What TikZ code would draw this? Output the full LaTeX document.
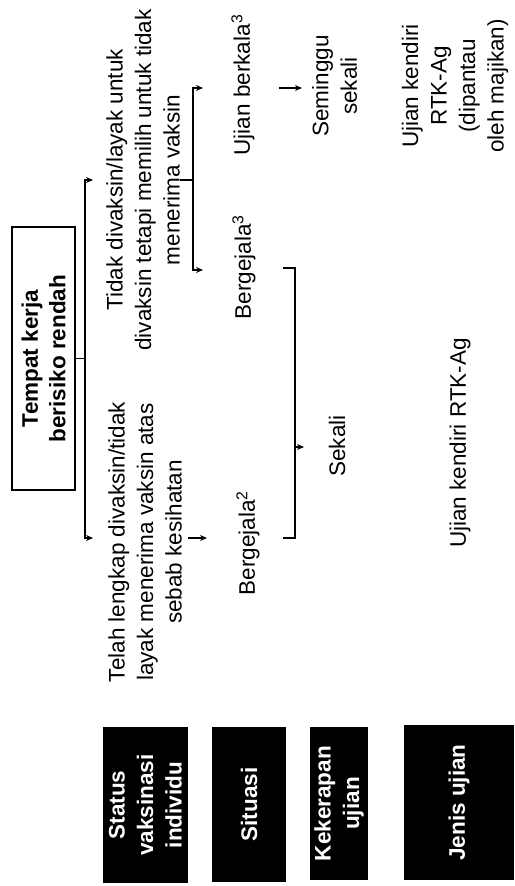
\documentclass[tikz,border=0pt]{standalone}
\usepackage{fontspec}
\setmainfont{Liberation Sans}
\usetikzlibrary{arrows.meta}
\begin{document}
\begin{tikzpicture}[x=1pt,y=-1pt,
  txt/.style={rotate=90, align=center, inner sep=0pt, font=\fontsize{22.5}{28.5}\selectfont},
  hdr/.style={rotate=90, align=center, fill=black, text=white, inner sep=0pt, font=\bfseries\fontsize{22.5}{28.5}\selectfont},
  ttl/.style={rotate=90, align=center, draw=black, line width=1.5pt, inner sep=0pt, minimum width=263pt, minimum height=63pt, font=\bfseries\fontsize{22.5}{27.5}\selectfont},
  ln/.style={line width=1.2pt, line join=miter},
  arr/.style={line width=1.2pt, line join=miter, -{Stealth[length=7pt,width=6pt]}}]
\useasboundingbox (0,0) rectangle (514,886);

% title
\node[ttl] (T) at (43.5,358.5) {Tempat kerja\\berisiko rendah};

% branch texts
\node[txt] (L) at (145,542) {Telah lengkap divaksin/tidak\\layak menerima vaksin atas\\sebab kesihatan};
\node[txt] (R) at (143,180) {Tidak divaksin/layak untuk\\divaksin tetapi memilih untuk tidak\\menerima vaksin};

\node[txt] (B2) at (248,543) {Bergejala\textsuperscript{2}};
\node[txt] (B3) at (244,267) {Bergejala\textsuperscript{3}};
\node[txt] (UB) at (243,85) {Ujian berkala\textsuperscript{3}};

\node[txt] (SK) at (337,446) {Sekali};
\node[txt] (SS) at (334.5,86) {Seminggu\\sekali};

\node[txt] (UK) at (460,443) {Ujian kendiri RTK-Ag};
\node[txt] (UK2) at (455,86) {Ujian kendiri\\RTK-Ag\\(dipantau\\oleh majikan)};

% side headers
\node[hdr, minimum width=156pt, minimum height=85pt] (S1) at (145.5,805) {Status\\vaksinasi\\individu};
\node[hdr, minimum width=155pt, minimum height=74pt] (S2) at (249,804.5) {Situasi};
\node[hdr, minimum width=153pt, minimum height=58pt] (S3) at (339,803.5) {Kekerapan\\ujian};
\node[hdr, minimum width=155pt, minimum height=110pt] (S4) at (459,802.5) {Jenis ujian};

% connectors from title
\coordinate (j) at (85,358.5);
\coordinate (lt) at (93,538);
\coordinate (rt) at (93,180);
\draw[ln] (T.south) -- (j);
\draw[arr] (j) |- (lt);
\draw[arr] (j) |- (rt);

% left branch arrow
\coordinate (la1) at (188,538);
\coordinate (la2) at (207,538);
\draw[arr] (la1) -- (la2);

% right branch bracket
\coordinate (rj) at (193,180);
\coordinate (ru) at (203,88);
\coordinate (rb) at (203,270);
\draw[ln] (R.south) -- (rj);
\draw[arr] (rj) |- (ru);
\draw[arr] (rj) |- (rb);

% Ujian berkala -> Seminggu sekali
\coordinate (ua1) at (279,88);
\coordinate (ua2) at (302,88);
\draw[arr] (ua1) -- (ua2);

% bracket joining Bergejala to Sekali
\coordinate (b2e) at (283,538);
\coordinate (b3e) at (283,268);
\coordinate (bk) at (295,447);
\coordinate (bka) at (304,447);
\draw[ln] (b2e) -- (295,538) -- (295,268) -- (b3e);
\draw[arr] (bk) -- (bka);
\end{tikzpicture}
\end{document}
